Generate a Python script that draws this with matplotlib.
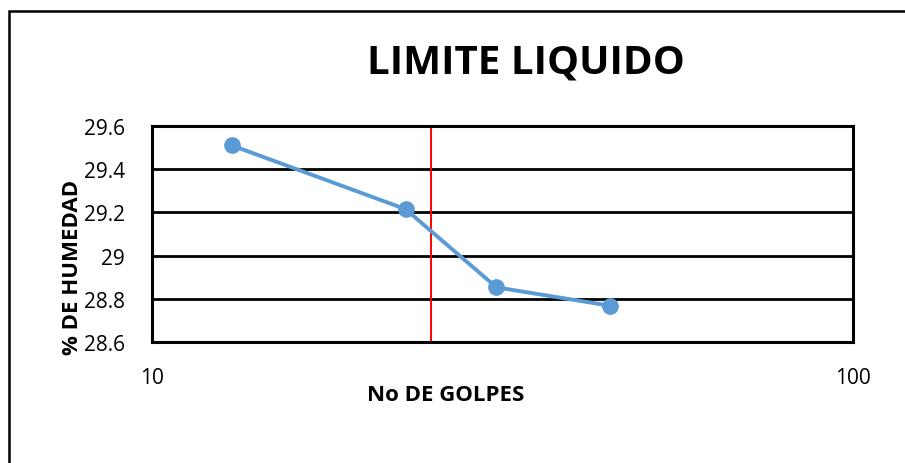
import matplotlib.pyplot as plt
from matplotlib.patches import Rectangle

# datos del ensayo
golpes = [13, 23, 31, 45]
humedad = [29.51, 29.215, 28.853, 28.768]
golpes_ref = 25
y_ticks = [28.6, 28.8, 29.0, 29.2, 29.4, 29.6]
y_labels = ["28.6", "28.8", "29", "29.2", "29.4", "29.6"]
x_ticks = [10, 100]
x_labels = ["10", "100"]

plt.rcParams['font.family'] = ['Open Sans', 'DejaVu Sans']

fig = plt.figure(figsize=(9.05, 4.64), dpi=100)
ax = fig.add_axes([152/905, 1 - 343/464, 701/905, 216/464])

# marco exterior del grafico
fig.patches.append(Rectangle((9/905, -0.1), 1.2, 1 - 12/464 + 0.1,
                             transform=fig.transFigure, fill=False,
                             edgecolor='black', linewidth=1.8))

ax.set_xscale('log')
ax.set_xlim(10, 100)
ax.set_ylim(28.6, 29.6)

for y in y_ticks:
    ax.axhline(y, color='black', linewidth=2, zorder=1)

ax.axvline(golpes_ref, color='red', linewidth=1.4, zorder=2)

ax.plot(golpes, humedad, color='#5B9BD5', linewidth=2.8, marker='o',
        markersize=11, zorder=3)

ax.set_xticks(x_ticks)
ax.set_xticklabels(x_labels)
ax.xaxis.set_minor_locator(plt.NullLocator())
ax.set_yticks(y_ticks)
ax.set_yticklabels(y_labels)
ax.tick_params(axis='both', length=0, labelsize=15)
ax.tick_params(axis='y', pad=19.5)
ax.tick_params(axis='x', pad=18)

for s in ax.spines.values():
    s.set_linewidth(2.2)
    s.set_color('black')

ax.set_xlabel("No DE GOLPES", fontsize=16, fontweight='bold', va='center')
ax.xaxis.set_label_coords((445.5 - 152) / 701, (343 - 396) / 216)
ax.set_ylabel("% DE HUMEDAD", fontsize=16, fontweight='bold', va='center')
ax.yaxis.set_label_coords((72 - 152) / 701, (343 - 267) / 216)

fig.text(525.5/905, 1 - 63/464, "LIMITE LIQUIDO", fontsize=29,
         fontweight='bold', ha='center', va='center')

fig.savefig("out.png", dpi=100)
